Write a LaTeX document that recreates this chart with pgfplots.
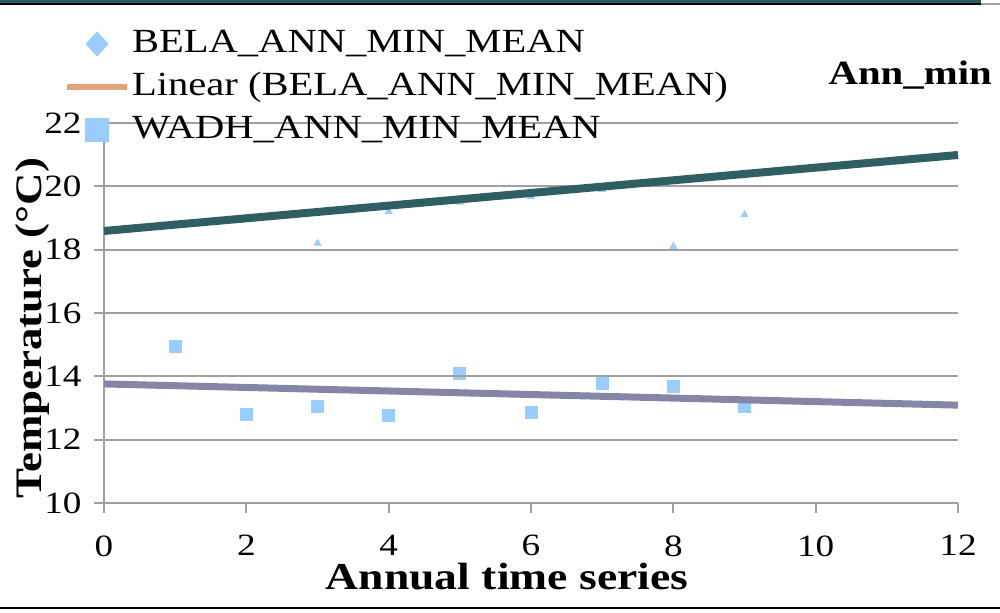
\documentclass[border=0pt]{standalone}
\usepackage{fontspec}
\setmainfont{Liberation Serif}[FakeStretch=1.2]
\usepackage{pgfplots}
\pgfplotsset{compat=1.18}
\definecolor{teal}{HTML}{2F5F62}
\definecolor{wadhline}{HTML}{8585A5}
\definecolor{mk}{HTML}{99CCFF}
\definecolor{orng}{HTML}{E4A27C}
\definecolor{gridc}{HTML}{A0A0A0}
\definecolor{topbar}{HTML}{2E5B5F}
\begin{document}
\begin{tikzpicture}
\begin{axis}[
  set layers,
  at={(0pt,0pt)}, anchor=origin,
  scale only axis, width=427pt, height=190pt,
  xmin=0, xmax=12, ymin=10, ymax=22,
  xtick={0,2,...,12}, ytick={10,12,...,22},
  axis x line*=bottom, axis y line*=left,
  axis line style={gridc, line width=1pt, -},
  ymajorgrids, grid style={gridc, line width=1pt},
  tick style={gridc, line width=1pt},
  tick align=outside, major tick length=5pt,
  /pgf/number format/assume math mode=true,
  ticklabel style={font=\fontsize{15.5}{18}\selectfont},
  yticklabel style={anchor=east, inner sep=0pt, xshift=-6pt},
  xticklabel style={anchor=north, inner sep=0pt, yshift=-11pt},
  xlabel={\textbf{Annual time series}},
  ylabel={\textbf{Temperature (°C)}},
  x label style={font=\fontsize{19}{22}\selectfont, at={(axis description cs:0.472,0)}, anchor=base, yshift=-43.5pt},
  y label style={font=\fontsize{18.7}{22}\selectfont, at={(axis description cs:-0.0735,0.46)}, anchor=base},
  legend style={at={(-0.0468,1.254)}, anchor=north west, draw=none, fill=none,
    inner sep=0pt, outer sep=0pt, row sep=4pt, column sep=1pt,
    font=\fontsize{16.9}{19}\selectfont,
    nodes={inner sep=0pt, text height=13pt, text depth=4.5pt}},
  legend cell align=left,
  clip=false,
]
\addlegendimage{legend image code/.code={\fill[mk] (15pt,-6pt) -- (20.5pt,0pt) -- (15pt,6pt) -- (9.5pt,0pt) -- cycle;}}
\addlegendentry{BELA\_ANN\_MIN\_MEAN}
\addlegendimage{legend image code/.code={\draw[orng, line width=3pt] (0pt,0pt) -- (30pt,0pt);}}
\addlegendentry{Linear (BELA\_ANN\_MIN\_MEAN)}
\addlegendimage{legend image code/.code={\fill[mk] (9.25pt,-5.75pt) rectangle (20.75pt,5.75pt);}}
\addlegendentry{WADH\_ANN\_MIN\_MEAN}

% BELA points
\addplot[forget plot, only marks, mark=triangle*, mark size=2pt, color=mk, on layer=axis background, mark layer=axis background] coordinates {
 (1,18.80) (2,18.95) (3,18.2) (4,19.2) (5,19.5) (6,19.68) (7,19.9) (8,18.1) (9,19.1)};
% WADH points
\addplot[forget plot, only marks, mark=square*, mark size=3pt, color=mk, on layer=axis background, mark layer=axis background] coordinates {
 (1,14.94) (2,12.81) (3,13.04) (4,12.76) (5,14.10) (6,12.85) (7,13.78) (8,13.67) (9,13.06)};
% trend lines
\addplot[forget plot, teal, line width=4pt] coordinates {(0,18.59) (12,20.99)};
\addplot[forget plot, wadhline, line width=3.5pt] coordinates {(0,13.76) (12,13.09)};

\node[anchor=base, font=\fontsize{17}{20}\selectfont\bfseries] at (rel axis cs:0.944,1.1) {Ann\_min};
\end{axis}
% frame decorations
\fill[topbar] (-52pt,251.5pt) rectangle (438.5pt,249.5pt);
\draw[black, line width=0.6pt] (-52pt,249.5pt) -- (438.5pt,249.5pt);
\draw[gridc, line width=0.6pt] (438.5pt,249.5pt) -- (448pt,249.5pt);
\draw[black, line width=1pt] (-52pt,-52.5pt) -- (448pt,-52.5pt);
\pgfresetboundingbox
\path[use as bounding box] (-52pt,-55pt) rectangle (448pt,251.5pt);
\end{tikzpicture}
\end{document}
